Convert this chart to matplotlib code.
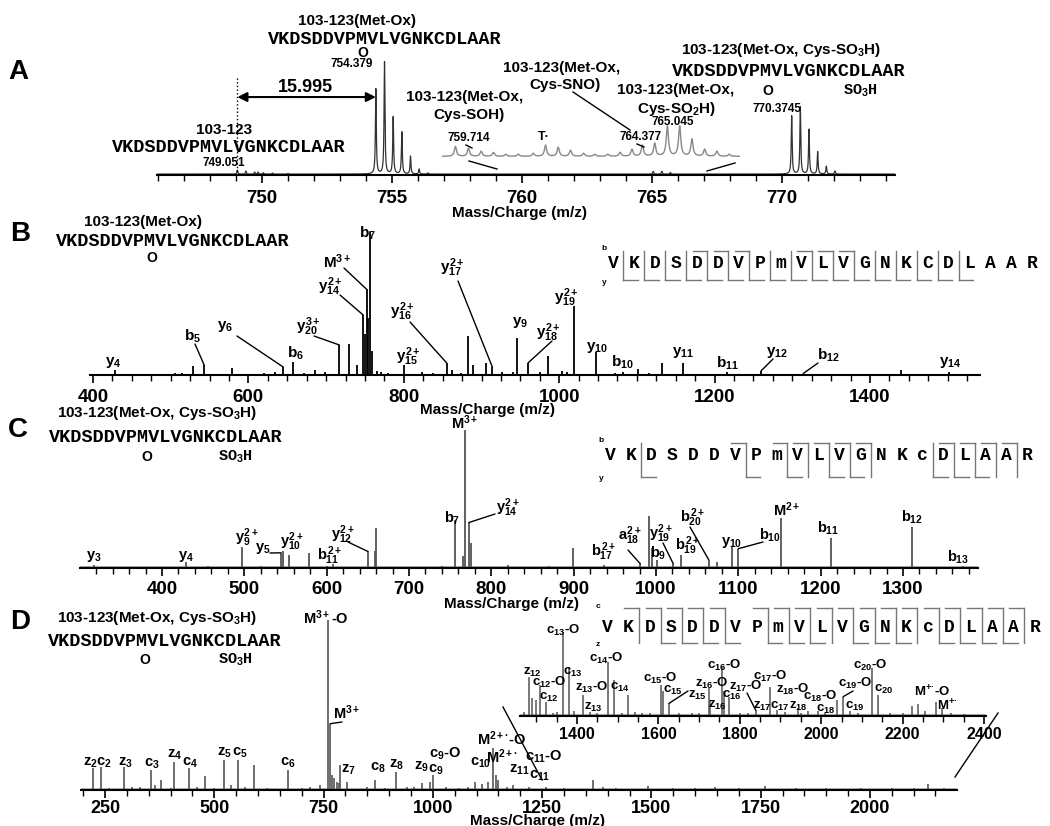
import numpy as np
import matplotlib
matplotlib.use('Agg')
import matplotlib.pyplot as plt
from matplotlib.ticker import MultipleLocator
from matplotlib.lines import Line2D

W, H = 1050, 826
plt.rcParams['font.family'] = ['Liberation Sans', 'DejaVu Sans']
plt.rcParams['font.weight'] = 'bold'
plt.rcParams['mathtext.fontset'] = 'custom'
plt.rcParams['mathtext.rm'] = 'Liberation Sans:bold'
plt.rcParams['mathtext.it'] = 'Liberation Sans:bold'
plt.rcParams['mathtext.bf'] = 'Liberation Sans:bold'
plt.rcParams['mathtext.fallback'] = 'stixsans'

SEQ = 'VKDSDDVPMVLVGNKCDLAAR'
MAP_B = list('VKDSDDVPmVLVGNKCDLAAR')
MAP_CD = list('VKDSDDVPmVLVGNKcDLAAR')

# ---- panel A: MS1 isotope clusters (m/z, relative intensity)
a_mz = [749.05, 749.38, 749.72, 749.85, 750.05, 750.4, 751.0,
        754.379, 754.712, 755.045, 755.379, 755.712, 756.045, 756.38,
        765.05, 765.38, 765.71,
        770.3745, 770.708, 771.041, 771.375, 771.708, 772.04]
a_int = [3.5, 2.7, 1.8, 1.8, 1.2, 1.0, 0.6,
         76, 100, 51, 37.5, 16, 4.5, 1.0,
         2.5, 2.5, 1.5,
         52, 60, 40, 20, 7, 2.7]
# zoomed region 759-767
a_zoom_mz = [759.36, 759.71, 760.05, 760.38, 760.71, 761.05, 761.45, 761.78, 762.12,
             762.45, 762.8, 763.1, 763.45, 763.78, 764.1, 764.38, 764.71, 765.05,
             765.38, 765.71, 766.05, 766.38, 766.71]
a_zoom_int = [33, 27, 17, 13, 7, 7, 10, 37, 30, 20, 10, 7, 7, 13, 23, 37, 43, 100,
              100, 57, 23, 17, 7]

# ---- panel B: CID of 103-123(Met-Ox)
b_mz = [428, 450, 470, 505, 515, 529, 543, 560, 579, 600, 620, 634, 645, 658, 672, 686,
        699, 717, 730, 740, 747.6, 749.5, 752, 753.5, 757, 759.5, 765, 771, 780, 800,
        823, 838, 855, 862, 873, 883, 889, 906, 914, 926, 940, 946, 960, 975, 985,
        1003, 1010, 1019, 1047, 1072, 1082, 1101, 1115, 1132, 1159, 1190, 1216, 1235,
        1260, 1290, 1314, 1350, 1390, 1440, 1475, 1502, 1520]
b_int = [3.5, 1, 1, 1.5, 1.5, 6, 7, 1, 5, 1, 1.5, 2, 5.5, 9, 1.5, 3.5,
         2, 21, 22, 7, 42, 29, 60, 40, 100, 17, 3, 2, 1.5, 7,
         2, 1.5, 8.5, 3.5, 1.5, 27, 7, 8.5, 5.5, 2, 2, 26, 8.5, 2, 13,
         3, 2, 48, 16, 1.5, 2, 4, 1.5, 8.5, 8.5, 1, 2, 1,
         3, 1, 1, 1, 1, 3.5, 1, 2, 1]

# ---- panel C: CID of 103-123(Met-Ox, Cys-SO3H)
c_mz = [317.5, 340, 370, 395, 429, 456, 475, 497, 520, 544.5, 547, 554, 579, 600, 608,
        630, 650, 659, 660.5, 690, 720, 740, 756, 765, 768, 773, 775, 790, 820, 850,
        870, 899, 920, 937, 955, 981, 991.5, 995, 1001, 1021, 1030, 1040, 1064, 1074,
        1092, 1100, 1120, 1152, 1180, 1212, 1240, 1270, 1311, 1340, 1373]
c_int = [2, 1, 1, 1, 4.5, 1.5, 1, 15, 1.5, 11, 12, 9.5, 11, 1.5, 3,
         1, 12, 12, 29, 1, 1, 1.5, 35, 9, 100, 33, 18, 1, 2, 1,
         1.5, 14.5, 1, 2, 1, 3, 38, 14.5, 6, 3, 9.5, 1, 6, 4.5,
         15, 14, 1, 36, 1, 22, 1, 1, 30, 1, 1.5]

# ---- panel D: ETD of 103-123(Met-Ox, Cys-SO3H)
d_mz = [223, 241, 260, 294, 312, 330, 355, 364, 378, 400, 408, 442, 460, 479, 500,
        522, 538, 554, 570, 591, 620, 669, 700, 720, 742, 760, 765, 770, 775, 780,
        785, 788, 803, 850, 868, 890, 916, 940, 956, 975, 994, 1000, 1030, 1060,
        1080, 1096, 1112, 1126, 1138, 1145, 1149, 1170, 1184, 1220, 1260, 1300, 1366,
        1389, 1420, 1492, 1550, 1600, 1645, 1700, 1760, 1830, 1900, 1980, 2050, 2100,
        2133, 2170]
d_int = [13, 13.5, 1, 13.5, 2, 1.5, 12, 3, 6, 1, 16.5, 13, 1.5, 8, 1,
         17.5, 3, 17.5, 1.5, 14.5, 1, 12, 1, 1.5, 3, 100, 39, 9, 7, 5,
         4, 14.5, 4.5, 1.5, 6, 1, 10.5, 1.5, 2, 4, 4.5, 9, 1.5, 1,
         2, 4.5, 3.5, 4.5, 25, 9, 6, 1.5, 3, 1.5, 1.5, 1, 6,
         2, 1, 2.5, 1, 1, 2, 1, 2.5, 1, 1, 1, 1, 1,
         3.5, 1]
# zoomed region 1260-2400
dz_mz = [1270, 1282, 1289, 1299, 1309, 1324, 1340, 1350, 1366, 1381, 1393, 1415, 1432,
         1450, 1476, 1491, 1510, 1525, 1543, 1560, 1580, 1606, 1611, 1626, 1650, 1682,
         1700, 1724, 1727, 1756, 1760, 1773, 1800, 1820, 1839, 1873, 1892, 1910, 1944,
         1950, 1968, 1993, 2010, 2039, 2054, 2071, 2090, 2125, 2140, 2170, 2200, 2223,
         2238, 2255, 2282, 2296, 2320, 2350]
dz_int = [5, 46, 21, 19, 37, 17, 4, 5, 100, 58, 6, 25, 5,
          4, 64, 43, 3, 25, 5, 4, 3, 37, 30, 15, 3, 4,
          4, 33, 18, 58, 30, 23, 4, 3, 7, 35, 7, 5, 10,
          4, 6, 6, 3, 19, 23, 6, 4, 57, 25, 3, 3, 12,
          14, 6, 17, 10, 3, 2]

fig = plt.figure(figsize=(W / 100, H / 100), dpi=100)


def fx(x):
    return x / W


def fy(y):
    return 1 - y / H


def text(x, y, s, size=10.5, **kw):
    kw.setdefault('ha', 'center')
    fig.text(fx(x), fy(y), s, va='center', fontsize=size, **kw)


def mono(x, y, s, size=13.3, **kw):
    kw.setdefault('ha', 'center')
    kw.setdefault('fontweight', 'bold')
    fig.text(fx(x), fy(y), s, va='center', fontsize=size,
             family=['Liberation Mono', 'DejaVu Sans Mono'], **kw)


def fline(x1, y1, x2, y2, color='k', lw=1.0):
    fig.add_artist(Line2D([fx(x1), fx(x2)], [fy(y1), fy(y2)],
                          transform=fig.transFigure, color=color, lw=lw))


def leader(ax, mz, inten, x, y, color='k'):
    ax.annotate('', xy=(mz, inten), xycoords='data', xytext=(x, H - y),
                textcoords='figure pixels',
                arrowprops=dict(arrowstyle='-', lw=1, color=color,
                                shrinkA=0, shrinkB=0))


def panel(left, right, base, top, xlim, full_px, major, minor, size=13.5, pad=5):
    ax = fig.add_axes([fx(left), fy(base), (right - left) / W, (base - top) / H])
    ax.set_xlim(*xlim)
    ax.set_ylim(0, 100 * (base - top) / full_px)
    for s in ('top', 'right', 'left'):
        ax.spines[s].set_visible(False)
    ax.spines['bottom'].set_linewidth(1.5)
    ax.set_yticks([])
    ax.patch.set_visible(False)
    ax.xaxis.set_major_locator(MultipleLocator(major))
    ax.xaxis.set_minor_locator(MultipleLocator(minor))
    ax.tick_params(which='major', length=6, width=1.2, labelsize=size, pad=pad)
    ax.tick_params(which='minor', length=4, width=1)
    return ax


def profile(grid, centers, heights, gamma):
    y = np.zeros_like(grid)
    for c, h in zip(centers, heights):
        y += h * gamma ** 2 / ((grid - c) ** 2 + gamma ** 2)
    return y


def seq_map(x0, step, y_let, y_top, y_bot, residues, top_gaps, bot_gaps, top_lab, bot_lab):
    for i, r in enumerate(residues):
        mono(x0 + i * step, y_let, r, size=13)
    text(x0 - 9, y_top - 2, top_lab, size=6)
    text(x0 - 9, y_bot + 2, bot_lab, size=6)
    hook = 0.7 * step
    for g in sorted(set(top_gaps) | set(bot_gaps)):
        xs = x0 + (g - 0.5) * step
        fline(xs, y_top, xs, y_bot, color='#777777')
        if g in top_gaps:
            fline(xs - hook, y_top, xs, y_top, color='#777777')
        if g in bot_gaps:
            fline(xs, y_bot, xs + hook, y_bot, color='#777777')


# ================= Panel A =================
axA = panel(157, 895, 175, 20, (745.96, 774.35), 112, 5, 1, pad=5)
grid = np.linspace(745.96, 774.35, 8000)
axA.plot(grid, profile(grid, a_mz, a_int, 0.02) + 0.8, color='#333333', lw=0.9)
axA.plot([749.051, 749.051], [0, 87.5], ls=':', color='k', lw=1)
axA.annotate('', xy=(754.379, 69.6), xytext=(749.051, 69.6),
             arrowprops=dict(arrowstyle='<|-|>', lw=1.5, color='k',
                             shrinkA=0, shrinkB=0, mutation_scale=14))
axAi = fig.add_axes([fx(442), fy(157), (740 - 442) / W, 37 / H])
axAi.set_xlim(759.0, 767.0)
axAi.set_ylim(0, 123)
axAi.axis('off')
gi = np.linspace(759.0, 767.0, 3000)
axAi.plot(gi, profile(gi, a_zoom_mz, a_zoom_int, 0.035) + 2, color='#888888', lw=1)
fline(469, 161, 497, 169)
fline(707, 171, 735, 163)

text(18, 72, 'A', size=20)
text(357, 21, '103-123(Met-Ox)', size=11)
mono(385, 39, SEQ)
text(363, 53, 'O', size=10)
text(352, 64, '754.379', size=8.5)
text(305, 87, '15.995', size=13)
text(224, 130, '103-123', size=11)
mono(229, 148, SEQ)
text(224, 163, '749.051', size=8.5)
text(465, 97, '103-123(Met-Ox,', size=11)
text(469, 115, 'Cys-SOH)', size=11)
text(469, 138, '759.714', size=8.5)
fline(466, 145, 472, 148)
text(544, 137, 'T·', size=9)
text(562, 68, '103-123(Met-Ox,', size=11)
text(565, 85, 'Cys-SNO)', size=11)
fline(573, 92, 630, 130)
text(641, 137, '764.377', size=8.5)
fline(637, 144, 644, 147)
text(676, 90, '103-123(Met-Ox,', size=11)
text(676, 109, 'Cys-SO$_2$H)', size=11)
text(673, 122, '765.045', size=8.5)
text(781, 50, '103-123(Met-Ox, Cys-SO$_3$H)', size=11)
mono(789, 72, SEQ)
text(768, 91, 'O', size=10)
mono(843, 91, 'SO$_3$H', size=11, ha='left')
text(777, 109, '770.3745', size=8.5)
text(519, 213, 'Mass/Charge (m/z)', size=11)

# ================= Panel B =================
axB = panel(90, 980, 375, 225, (396.1, 1541.6), 143, 200, 25, pad=4)
axB.vlines(b_mz, 0, b_int, color='k', lw=1.3)
text(20, 234, 'B', size=20)
text(143, 222, '103-123(Met-Ox)', size=11)
mono(173, 242, SEQ)
text(152, 258, 'O', size=10)
seq_map(613, 20.95, 263, 251, 280, MAP_B, [5, 6, 7, 10, 11, 12], list(range(1, 18)), 'b', 'y')
b_labels = [('$y_4$', 113, 363), ('$b_5$', 192, 336), ('$y_6$', 225, 327), ('$b_6$', 295, 353),
            ('$y_{20}^{3+}$', 308, 327), ('M$^{3+}$', 337, 262), ('$y_{14}^{2+}$', 330, 287),
            ('$b_7$', 367, 233), ('$y_{17}^{2+}$', 452, 268), ('$y_{16}^{2+}$', 402, 312),
            ('$y_{15}^{2+}$', 408, 357), ('$y_9$', 520, 322), ('$y_{18}^{2+}$', 548, 333),
            ('$y_{19}^{2+}$', 566, 298), ('$y_{10}$', 597, 347), ('$b_{10}$', 622, 362),
            ('$y_{11}$', 683, 353), ('$b_{11}$', 727, 363), ('$y_{12}$', 777, 353),
            ('$b_{12}$', 828, 355), ('$y_{14}$', 950, 363)]
for s, x, y in b_labels:
    text(x, y, s, size=11)
for mz, inten, x, y in [(543, 7, 195, 344), (645, 5.5, 237, 336), (717, 21, 314, 336),
                        (752, 60, 344, 268), (747.6, 42, 340, 295), (914, 5.5, 458, 281),
                        (855, 8.5, 410, 322), (960, 8.5, 552, 341), (1260, 3, 773, 359),
                        (1314, 1, 818, 363)]:
    leader(axB, mz, inten, x, y)
text(487, 410, 'Mass/Charge (m/z)', size=11)

# ================= Panel C =================
axC = panel(80, 978, 568, 425, (300.4, 1391.1), 138, 100, 20, pad=3)
axC.axhline(0.8, color='#aaaaaa', lw=1.5)
axC.vlines(c_mz, 0, c_int, color='#555555', lw=1.3)
text(18, 430, 'C', size=20)
text(157, 413, '103-123(Met-Ox, Cys-SO$_3$H)', size=11)
mono(166, 438, SEQ)
text(147, 457, 'O', size=10)
mono(218, 457, 'SO$_3$H', size=11, ha='left')
seq_map(610, 20.85, 455, 443, 477, MAP_CD, [7, 9, 10, 11, 12, 13, 17, 18, 19, 20],
        [2, 7, 9, 11, 12, 16, 17, 18], 'b', 'y')
c_labels = [('$y_3$', 94, 557), ('$y_4$', 186, 557), ('$y_9^{2+}$', 247, 538), ('$y_5$', 263, 549),
            ('$y_{10}^{2+}$', 292, 542), ('$b_{11}^{2+}$', 330, 556), ('$y_{12}^{2+}$', 343, 535),
            ('$b_7$', 452, 518), ('$y_{14}^{2+}$', 508, 508), ('M$^{3+}$', 465, 423),
            ('$b_{17}^{2+}$', 604, 552), ('$a_{18}^{2+}$', 630, 536), ('$y_{19}^{2+}$', 661, 534),
            ('$b_9$', 658, 553), ('$b_{19}^{2+}$', 688, 546), ('$b_{20}^{2+}$', 693, 518),
            ('$y_{10}$', 732, 543), ('$b_{10}$', 770, 535), ('M$^{2+}$', 787, 510),
            ('$b_{11}$', 828, 528), ('$b_{12}$', 912, 517), ('$b_{13}$', 958, 557)]
for s, x, y in c_labels:
    text(x, y, s, size=10.5)
for mz, inten, x, y in [(544.5, 11, 270, 553), (650, 12, 348, 542), (773, 33, 495, 514),
                        (981, 3, 628, 550), (1021, 3, 663, 543), (1064, 6, 690, 527),
                        (1100, 14, 763, 542)]:
    leader(axC, mz, inten, x, y)
text(512, 604, 'Mass/Charge (m/z)', size=11)

# ================= Panel D =================
axD = panel(81, 957, 790, 615, (195.1, 2199.2), 170, 250, 50, size=13, pad=1)
axD.axhline(0.8, color='#aaaaaa', lw=2)
axD.vlines(d_mz, 0, d_int, color='#555555', lw=1.2)
text(20, 622, 'D', size=20)
text(157, 618, '103-123(Met-Ox, Cys-SO$_3$H)', size=11)
mono(165, 642, SEQ)
text(145, 660, 'O', size=10)
mono(218, 660, 'SO$_3$H', size=11, ha='left')
d_labels = [('$z_2c_2$', 97, 763), ('$z_3$', 125, 763), ('$c_3$', 152, 764), ('$z_4$', 174, 755),
            ('$c_4$', 190, 763), ('$z_5$', 224, 753), ('$c_5$', 240, 753), ('$c_6$', 288, 763),
            ('M$^{3+}$-O', 326, 618), ('M$^{3+}$', 347, 713), ('$z_7$', 348, 770),
            ('$c_8$', 378, 768), ('$z_8$', 396, 765), ('$z_9$', 421, 767), ('$c_9$-O', 445, 754),
            ('$c_9$', 436, 770), ('$c_{10}$', 481, 763), ('M$^{2+·}$-O', 502, 739),
            ('M$^{2+·}$', 502, 757), ('$c_{11}$-O', 544, 757), ('$z_{11}$', 519, 770),
            ('$c_{11}$', 540, 776)]
for s, x, y in d_labels:
    text(x, y, s, size=10.5)
leader(axD, 765, 39, 342, 722)
text(537, 821, 'Mass/Charge (m/z)', size=11)

axDi = panel(520, 986, 716, 600, (1260, 2404.9), 84, 200, 50, size=11.5, pad=2)
axDi.axhline(1.5, color='#aaaaaa', lw=1.5)
axDi.vlines(dz_mz, 0, dz_int, color='#555555', lw=1.1)
fline(503, 707, 542, 780)
fline(998, 713, 955, 777)
seq_map(607, 21.4, 628, 608, 643, MAP_CD,
        [2, 3, 4, 5, 6, 8, 9, 10, 11, 12, 13, 14, 15, 16, 17, 18, 19, 20],
        [3, 4, 5, 6, 8, 9, 10, 12, 13, 14, 16, 17, 18, 19], 'c', 'z')
di_labels = [('$z_{12}$', 532, 672), ('$c_{12}$-O', 549, 682), ('$c_{13}$-O', 563, 630),
             ('$c_{13}$', 573, 672), ('$c_{12}$', 549, 697), ('$z_{13}$-O', 592, 687),
             ('$c_{14}$-O', 606, 658), ('$c_{14}$', 620, 687), ('$z_{13}$', 593, 707),
             ('$c_{15}$-O', 660, 678), ('$c_{15}$', 673, 690), ('$z_{15}$', 697, 695),
             ('$z_{16}$-O', 712, 683), ('$c_{16}$-O', 724, 665), ('$c_{16}$', 732, 695),
             ('$z_{16}$', 717, 705), ('$z_{17}$-O', 746, 686), ('$z_{17}$', 762, 706),
             ('$c_{17}$-O', 770, 676), ('$c_{17}$', 780, 706), ('$z_{18}$-O', 793, 689),
             ('$z_{18}$', 798, 706), ('$c_{18}$-O', 820, 696), ('$c_{18}$', 826, 709),
             ('$c_{19}$-O', 855, 683), ('$c_{19}$', 855, 706), ('$c_{20}$-O', 870, 665),
             ('$c_{20}$', 884, 689), ('M$^{+·}$-O', 932, 692), ('M$^{+·}$', 947, 706)]
for s, x, y in di_labels:
    text(x, y, s, size=9.5)
for mz, inten, x, y in [(1626, 15, 688, 691), (1839, 7, 747, 693), (2054, 23, 853, 691)]:
    leader(axDi, mz, inten, x, y)

fig.savefig('out.png', dpi=100)
